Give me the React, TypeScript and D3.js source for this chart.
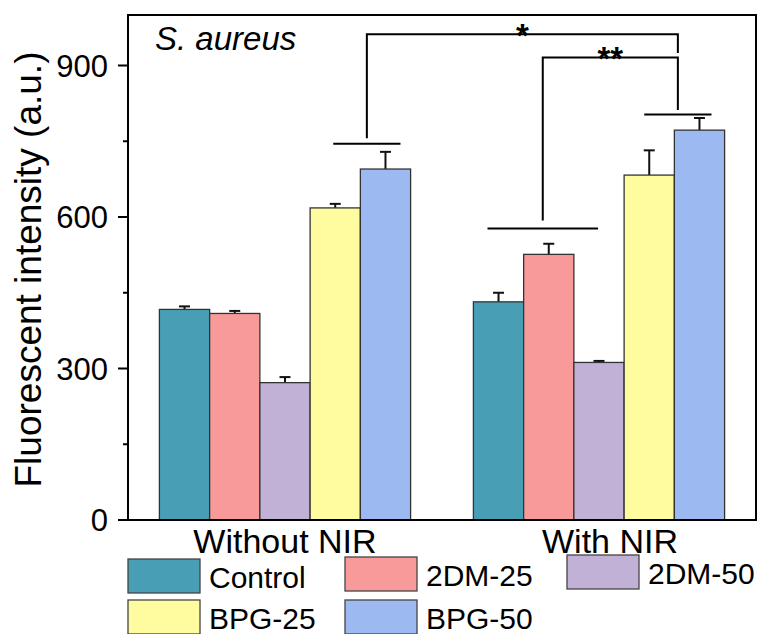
import * as d3 from 'd3'

const W = 769, H = 634
const M = { top: 15, right: 13, bottom: 114, left: 128 }
const FONT = '"Liberation Sans", Arial, sans-serif'

const categories = ['Without NIR', 'With NIR']
const series = ['Control', '2DM-25', '2DM-50', 'BPG-25', 'BPG-50']
const colors = ['#489fb5', '#f89a9a', '#c2b1d6', '#fffc9f', '#9cbaf1']
const withoutNIR = [417, 409, 272, 618, 695]
const withoutNIRErr = [6, 5, 11, 8, 34]
const withNIR = [432, 526, 312, 683, 772]
const withNIRErr = [18, 21, 3, 49, 24]
const yTicks = [0, 300, 600, 900]
const yMinorTicks = [150, 450, 750]

// horizontal lines over compared bars: group, first bar, last bar, value
const sigLines = [
  { group: 0, from: 3, to: 4, value: 745, padL: -2, padR: 15 },
  { group: 1, from: 0, to: 2, value: 577, padL: -11, padR: -1 },
  { group: 1, from: 3, to: 4, value: 803, padL: -5, padR: 12 },
]
// brackets between lines: label, left line, right line, top value, leg end values
const sigBrackets = [
  { label: '*', a: 0, b: 2, top: 962, aEnd: 756, bEnd: 925 },
  { label: '**', a: 1, b: 2, top: 916, aEnd: 593, bEnd: 812 },
]

export default function App() {
  const x0 = d3.scaleBand().domain(categories).range([M.left, W - M.right]).paddingInner(0.2).paddingOuter(0.1)
  const x1 = d3.scaleBand().domain(series).range([0, x0.bandwidth()])
  const y = d3.scaleLinear().domain([0, 1000]).range([H - M.bottom, M.top])
  const values = [withoutNIR, withNIR]
  const errs = [withoutNIRErr, withNIRErr]

  const center = (g: number, i: number) => x0(categories[g])! + x1(series[i])! + x1.bandwidth() / 2
  const lineX = sigLines.map(l => [center(l.group, l.from) + l.padL, center(l.group, l.to) + l.padR])
  const lineMid = lineX.map(([a, b]) => (a + b) / 2)

  const legendCols = [M.left, 345, 567]
  const legendRows = [559, 600]
  const catShift = [0, 11]

  return (
    <svg width={W} height={H} style={{ position: 'absolute', left: 0, top: 0, fontFamily: FONT }}>
      {/* bars */}
      {categories.map((c, g) => (
        <g key={c}>
          {series.map((s, i) => {
            const bx = x0(c)! + x1(s)!
            const v = values[g][i]
            const e = errs[g][i]
            const cx = bx + x1.bandwidth() / 2
            return (
              <g key={s}>
                <line x1={cx} x2={cx} y1={y(v)} y2={y(v + e)} stroke="#111" strokeWidth={2} />
                <line x1={cx - 5.5} x2={cx + 5.5} y1={y(v + e)} y2={y(v + e)} stroke="#111" strokeWidth={2} />
                <rect x={bx} y={y(v)} width={x1.bandwidth()} height={y(0) - y(v)}
                  fill={colors[i]} stroke="#333" strokeWidth={1.3} />
              </g>
            )
          })}
        </g>
      ))}

      {/* significance */}
      {sigLines.map((l, k) => (
        <line key={k} x1={lineX[k][0]} x2={lineX[k][1]} y1={y(l.value)} y2={y(l.value)} stroke="#000" strokeWidth={2} />
      ))}
      {sigBrackets.map((b, k) => {
        const xa = lineMid[b.a], xb = lineMid[b.b]
        return (
          <g key={k}>
            <path d={`M${xa},${y(b.aEnd)}V${y(b.top)}H${xb}V${y(b.bEnd)}`} fill="none" stroke="#000" strokeWidth={2} />
            <text x={(xa + xb) / 2} y={y(b.top) + 13} textAnchor="middle" fontSize={33} fontWeight="bold">{b.label}</text>
          </g>
        )
      })}

      {/* frame */}
      <rect x={M.left} y={M.top} width={W - M.right - M.left} height={H - M.bottom - M.top} fill="none" stroke="#000" strokeWidth={2} />

      {/* y axis */}
      {yTicks.map(t => (
        <g key={t}>
          <line x1={M.left - 10} x2={M.left} y1={y(t)} y2={y(t)} stroke="#000" strokeWidth={2} />
          <text x={M.left - 20} y={y(t)} dy="0.36em" textAnchor="end" fontSize={31}>{t}</text>
        </g>
      ))}
      {yMinorTicks.map(t => (
        <line key={t} x1={M.left - 5} x2={M.left} y1={y(t)} y2={y(t)} stroke="#000" strokeWidth={2} />
      ))}
      <text transform={`translate(41,${(y(0) + y(1000)) / 2 + 2}) rotate(-90)`} textAnchor="middle" fontSize={37}>
        Fluorescent intensity (a.u.)
      </text>

      {/* x labels */}
      {categories.map((c, g) => (
        <text key={c} x={x0(c)! + x0.bandwidth() / 2 + catShift[g]} y={553} textAnchor="middle" fontSize={34}>{c}</text>
      ))}

      <text x={155} y={50} fontSize={33} fontStyle="italic">S. aureus</text>

      {/* legend */}
      {series.map((s, i) => {
        const lx = legendCols[i % 3]
        const ly = legendRows[Math.floor(i / 3)] - (i < 3 ? i * 2 : 0)
        return (
          <g key={s}>
            <rect x={lx} y={ly} width={72} height={34} fill={colors[i]} stroke="#444" strokeWidth={1.3} />
            <text x={lx + 81} y={ly + 29} fontSize={30}>{s}</text>
          </g>
        )
      })}
    </svg>
  )
}
